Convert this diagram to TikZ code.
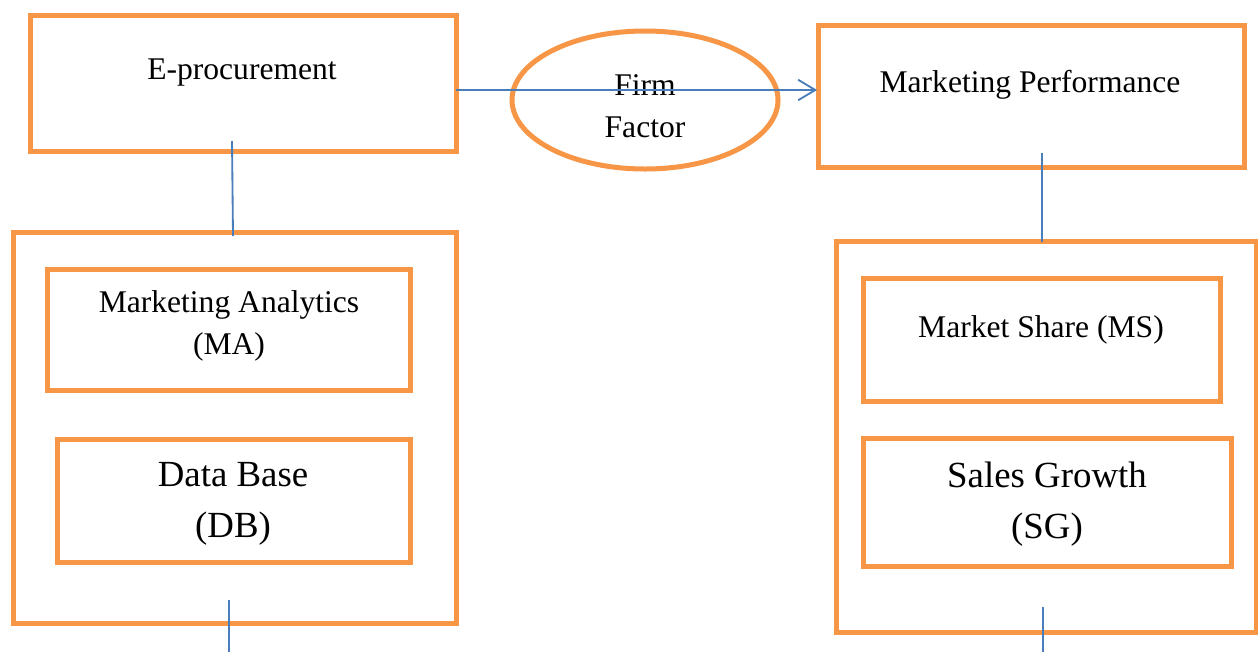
\documentclass[tikz,border=0pt]{standalone}
\usepackage{fontspec}
\setmainfont{Liberation Serif}
\usetikzlibrary{fit,arrows.meta,shapes.geometric}
\definecolor{boxorange}{HTML}{F79646}
\definecolor{linkblue}{HTML}{4A7EBB}

\begin{document}
\begin{tikzpicture}[x=0.38pt,y=-0.38pt,
  obox/.style={draw=boxorange, line width=1.9pt, inner sep=0pt, rectangle},
  oval/.style={draw=boxorange, line width=1.9pt, inner sep=0pt, ellipse},
  link/.style={draw=linkblue, line width=0.7pt},
  lbl/.style={align=center, inner sep=0pt, font=\fontsize{12}{16}\selectfont},
  big/.style={align=center, inner sep=0pt, font=\fontsize{14}{19.4}\selectfont}]
\useasboundingbox (0,0) rectangle (1258,652);

% frames
\node[obox, fit={(30,15) (456,151)}] (eproc) {};
\node[obox, fit={(818,25) (1244,167)}] (mperf) {};
\node[obox, fit={(13,232) (456,623)}] (leftgroup) {};
\node[obox, fit={(47,269) (410,390)}] (ma) {};
\node[obox, fit={(57,439) (410,562)}] (db) {};
\node[obox, fit={(836,241) (1256,632)}] (rightgroup) {};
\node[obox, fit={(863,278) (1220,401)}] (ms) {};
\node[obox, fit={(863,438) (1231,566)}] (sg) {};
\node[oval, minimum width=266*0.38pt, minimum height=138*0.38pt] (firm) at (645,100) {};

% texts
\node[lbl] (eproctext) at (242,73) {E-procurement};
\node[lbl] (mperftext) at (1030,85) {Marketing Performance};
\node[lbl] (firmtext) at (645,106) {Firm\\Factor};
\node[lbl] (matext) at (229,326) {Marketing Analytics\\(MA)};
\node[big] (dbtext) at (233,504) {Data Base\\(DB)};
\node[lbl] (mstext) at (1041,330) {Market Share (MS)};
\node[big] (sgtext) at (1047,504) {Sales Growth\\(SG)};

% connectors
\coordinate (arrowstart) at (456,90);
\coordinate (arrowend) at (817,90);
\draw[link, -{Straight Barb[length=6.5pt, width=7.8pt]}] (arrowstart) -- (arrowend);

\coordinate (ltop) at (232,141);
\coordinate (lbot) at (233,236);
\draw[link] (ltop) -- (lbot);
\coordinate (rtop) at (1042,153);
\coordinate (rbot) at (1042,242);
\draw[link] (rtop) -- (rbot);

\coordinate (lfoot) at (229,600);
\coordinate (lfootend) at (229,652);
\draw[link] (lfoot) -- (lfootend);
\coordinate (rfoot) at (1043,607);
\coordinate (rfootend) at (1043,652);
\draw[link] (rfoot) -- (rfootend);
\end{tikzpicture}
\end{document}
